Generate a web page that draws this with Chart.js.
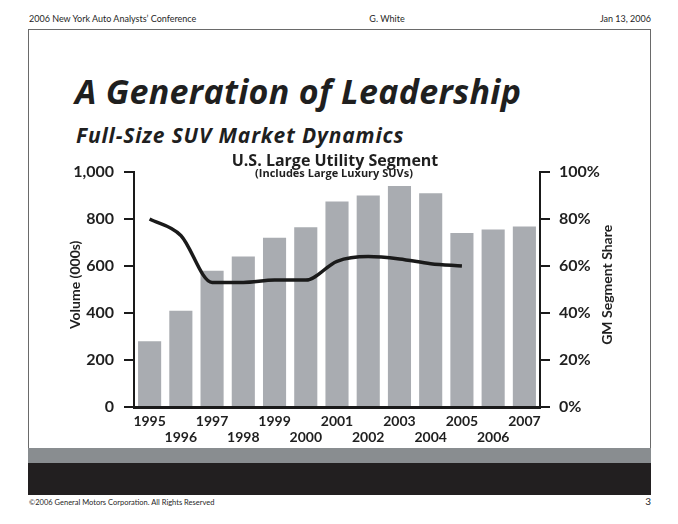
<!DOCTYPE html>
<html lang="en">
<head>
<meta charset="UTF-8">
<title>A Generation of Leadership</title>
<script src="https://cdn.jsdelivr.net/npm/chart.js"></script>
<style>
*{margin:0;padding:0;box-sizing:border-box;}
body{width:678px;height:524px;background:#fff;font-family:'Lato',sans-serif;color:#1f1f1f;position:relative;overflow:hidden;}
.small{position:absolute;font-size:9px;line-height:1;white-space:nowrap;}
.frame{position:absolute;left:28px;top:29px;width:623px;height:466px;border:1px solid #6a6a6a;border-bottom:none;}
.band-grey{position:absolute;left:28px;top:448px;width:623px;height:15px;background:#898d90;}
.band-dark{position:absolute;left:28px;top:463px;width:623px;height:32px;background:#221f20;}
.ttl{position:absolute;font-family:'Open Sans',sans-serif;font-weight:700;line-height:1;white-space:nowrap;}
.t1{left:75px;top:74px;font-size:34px;font-style:italic;letter-spacing:0.3px;}
.t2{left:76px;top:125px;font-size:21px;font-style:italic;letter-spacing:0.85px;}
.t3{left:335px;top:152px;transform:translateX(-50%);font-size:16px;}
.t4{left:334px;top:167px;transform:translateX(-50%);font-size:11px;}
#wrap{position:absolute;left:28px;top:145px;width:623px;height:303px;}
</style>
</head>
<body>
<div class="small" style="left:29px;top:14px;">2006 New York Auto Analysts’ Conference</div>
<div class="small" style="left:387px;top:14px;transform:translateX(-50%);">G. White</div>
<div class="small" style="right:27px;top:14px;">Jan 13, 2006</div>

<div class="frame"></div>
<div class="band-grey"></div>
<div class="band-dark"></div>

<div class="ttl t1">A Generation of Leadership</div>
<div class="ttl t2">Full-Size SUV Market Dynamics</div>

<div id="wrap"><canvas id="chart"></canvas></div>

<div class="ttl t3">U.S. Large Utility Segment</div>
<div class="ttl t4">(Includes Large Luxury SUVs)</div>

<div class="small" style="left:29px;top:499px;font-size:7.5px;">©2006 General Motors Corporation. All Rights Reserved</div>
<div class="small" style="right:27px;top:496px;font-size:10px;">3</div>

<script>
// data
const years=['1995','1996','1997','1998','1999','2000','2001','2002','2003','2004','2005','2006','2007'];
const volume=[280,410,580,640,720,765,875,900,940,910,740,755,768];      // 000s units
const gmShare=[80,73,53,53,54,54,62,64,63,61,60,null,null];             // %
const volumeStep=200;
const shareStep=20;

const axisFont={family:'Lato',size:16,weight:'bold'};
const ink='#1f1f1f';

// draws both axis titles reading bottom-to-top (chart.js flips the right one)
const axisTitles={
    id:'axisTitles',
    afterDraw(c){
        const ctx=c.ctx,a=c.chartArea;
        const mid=a.top+(a.bottom-a.top)*0.48;
        ctx.save();
        ctx.font='bold 14px Lato';
        ctx.fillStyle=ink;
        ctx.textAlign='center';
        ctx.textBaseline='middle';
        [[c.scales.y.left+47,'Volume (000s)'],[c.scales.y1.right-44,'GM Segment Share']].forEach(([x,t])=>{
            ctx.save();
            ctx.translate(x,mid);
            ctx.rotate(-Math.PI/2);
            ctx.fillText(t,0,0);
            ctx.restore();
        });
        ctx.restore();
    }
};

new Chart(document.getElementById('chart'),{
    data:{
        labels:years,
        datasets:[
            {type:'line',label:'GM Segment Share',data:gmShare,yAxisID:'y1',borderColor:'#1a1a1a',borderWidth:3.5,pointRadius:0,cubicInterpolationMode:'monotone',order:0,spanGaps:false},
            {type:'bar',label:'Volume',data:volume,yAxisID:'y',backgroundColor:'#a9acb1',barPercentage:1,categoryPercentage:0.74,order:1}
        ]
    },
    options:{
        responsive:true,
        maintainAspectRatio:false,
        animation:false,
        layout:{padding:{top:27,left:0,right:0,bottom:0}},
        plugins:{legend:{display:false},tooltip:{enabled:false}},
        scales:{
            x:{
                grid:{display:false,drawTicks:false},
                border:{color:'#1a1a1a',width:3},
                ticks:{autoSkip:false,maxRotation:0,padding:7,color:ink,
                    font:{family:'Lato',size:14,weight:'bold',lineHeight:1.1},
                    callback:(v,i)=>i%2===0?[years[i],'']:['',years[i]]},
                afterFit:s=>{s.height=41;}
            },
            y:{
                position:'left',min:0,max:1000,
                grid:{drawOnChartArea:false,tickLength:10,color:'#1a1a1a',lineWidth:2},
                border:{color:'#1a1a1a',width:2},
                ticks:{stepSize:volumeStep,padding:10,color:ink,font:axisFont,
                    callback:v=>v.toLocaleString('en-US')},
                afterFit:s=>{s.width=106;}
            },
            y1:{
                position:'right',min:0,max:100,
                grid:{drawOnChartArea:false,tickLength:10,color:'#1a1a1a',lineWidth:2},
                border:{color:'#1a1a1a',width:2},
                ticks:{stepSize:shareStep,padding:9,color:ink,font:axisFont,
                    callback:v=>v+'%'},
                afterFit:s=>{s.width=111;}
            }
        }
    },
    plugins:[axisTitles]
});
</script>
</body>
</html>
